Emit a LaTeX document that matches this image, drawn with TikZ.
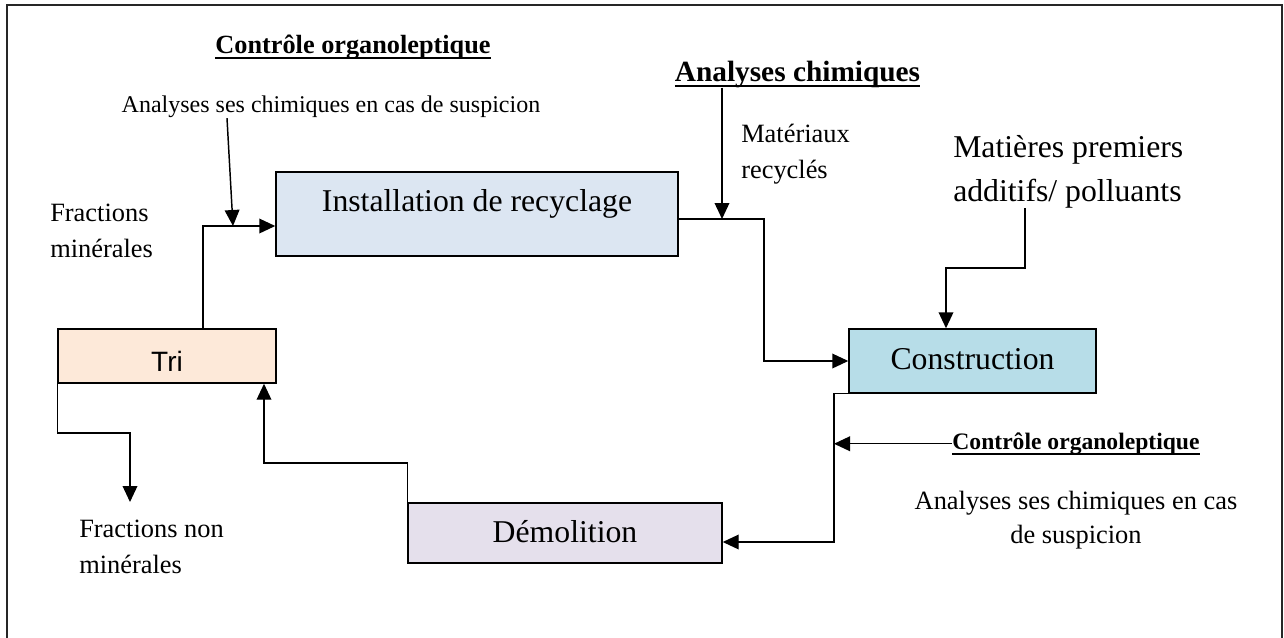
\documentclass[tikz,border=0pt]{standalone}
\usepackage{fontspec}
\setmainfont{Liberation Serif}
\newfontfamily\trifont{Liberation Sans}
\usetikzlibrary{arrows.meta}
\newcommand\ulbox[1]{\setbox0\hbox{#1}\rlap{\rule[-4.6pt]{\wd0}{1.4pt}}\box0}
\definecolor{instfill}{HTML}{DCE6F2}
\definecolor{constrfill}{HTML}{B7DDE8}
\definecolor{trifill}{HTML}{FDE9D9}
\definecolor{demolfill}{HTML}{E5E0EC}
\begin{document}
\begin{tikzpicture}[x=0.75pt,y=-0.75pt,
  box/.style={draw=black, line width=1.1pt, rectangle, inner sep=0pt, anchor=center},
  arr/.style={line width=1.1pt, -{Triangle[length=12pt,width=11pt]}},
  lbl/.style={inner sep=0pt, anchor=base},
  lblw/.style={inner sep=0pt, anchor=base west, align=left},
  big/.style={font=\fontsize{23.8}{32}\selectfont},
  norm/.style={font=\fontsize{19.8}{26.3}\selectfont}]
\useasboundingbox (0,0) rectangle (1284,637);
\draw[line width=1.5pt, draw=black!85] (7,5) rectangle (1282,700);

% boxes
\node[box, fill=instfill, big, minimum width=301.5pt, minimum height=63pt,
      text height=16.3pt, text depth=20.8pt] (inst) at (477,214) {Installation de recyclage};
\node[box, fill=constrfill, big, minimum width=185.25pt, minimum height=48pt,
      text height=12pt, text depth=0pt] (constr) at (972.5,361) {Construction};
\node[box, fill=trifill, font=\trifont\fontsize{21}{25}\selectfont, minimum width=163.5pt, minimum height=40.5pt,
      text height=22.5pt, text depth=0pt] (tri) at (167,356) {Tri};
\node[box, fill=demolfill, big, minimum width=235.5pt, minimum height=45pt,
      text height=13.5pt, text depth=0pt] (demol) at (565,533) {Démolition};

% labels (multi-line labels are placed by the baseline of their last line)
\node[lbl, font=\bfseries\fontsize{19.7}{24}\selectfont] (ctl1) at (353,53) {\ulbox{Contrôle organoleptique}};
\node[lbl, font=\fontsize{18}{22}\selectfont] (ana1) at (331,112.7) {Analyses ses chimiques en cas de suspicion};
\node[lblw, font=\fontsize{19.8}{27}\selectfont] (frac) at (50,257.7) {Fractions\\minérales};
\node[lbl, font=\bfseries\fontsize{22}{26}\selectfont] (anach) at (797.5,81) {\ulbox{Analyses chimiques}};
\node[lblw, norm] (mat) at (741,178) {Matériaux\\recyclés};
\node[lblw, font=\fontsize{23.8}{32.3}\selectfont] (matp) at (953,201) {Matières premiers\\additifs/ polluants};
\node[lbl, font=\bfseries\fontsize{17.7}{22}\selectfont] (ctl2) at (1076,449) {\ulbox{Contrôle organoleptique}};
\node[lbl, align=center, font=\fontsize{19.8}{25.5}\selectfont] (ana2) at (1076,543) {Analyses ses chimiques en cas\\de suspicion};
\node[lblw, norm] (fracnon) at (79,573) {Fractions non\\minérales};

% coordinates
\coordinate (p1) at (203,226);
\coordinate (p2s) at (227,0);
\coordinate (p2e) at (233,226);
\coordinate (p3) at (764,219);
\coordinate (p4) at (722,219);
\coordinate (p5a) at (1025,268);
\coordinate (p5b) at (946,268);
\coordinate (p6) at (834,542);
\coordinate (p7) at (264,463);
\coordinate (p8) at (130,433);
\coordinate (p8e) at (130,502);

% connectors
\draw[arr] (tri.north -| p1) -- (p1) -- (inst.west |- p1);
\draw[arr] (ana1.south -| p2s) -- (p2e);
\draw[arr] (inst.east |- p3) -- (p3) |- (constr.west);
\draw[arr] (anach.south -| p4) -- (p4);
\draw[arr] (matp.south -| p5a) -- (p5a) -- (p5b) -- (p5b |- constr.north);
\draw[arr] (constr.south -| p5b) -- (constr.south -| p6) -- (p6) -- (demol.east |- p6);
\draw[arr] (ctl2.west) -- (ctl2.west -| p6);
\draw[arr] (demol.north west) -- (demol.north west |- p7) -- (p7) -- (p7 |- tri.south);
\draw[arr] (tri.south west) |- (p8) -- (p8e);
\end{tikzpicture}
\end{document}
